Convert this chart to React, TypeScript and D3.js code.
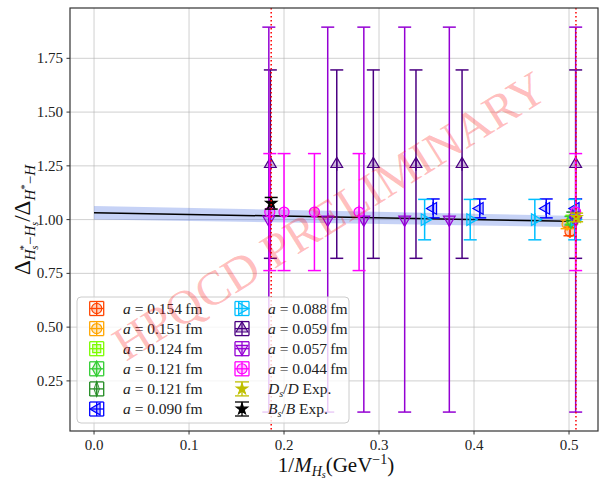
import React, { useEffect } from 'react';
import * as d3 from 'd3';

// axis ticks
const xTicks = [0.0, 0.1, 0.2, 0.3, 0.4, 0.5];
const yTicks = [0.25, 0.5, 0.75, 1.0, 1.25, 1.5, 1.75];

// fit band (x, central, error)
const fitX = [0.0, 0.5];
const fitY = [1.032, 0.992];
const fitErr = [0.031, 0.026];

// experimental reference lines (vertical dotted)
const expLines = [0.1865, 0.5073];

// lattice ensembles
const a154X = [0.501];
const a154Y = [0.945];
const a154E = [0.02];

const a151X = [0.498];
const a151Y = [0.978];
const a151E = [0.02];

const a124X = [0.503];
const a124Y = [1.0];
const a124E = [0.02];

const a121aX = [0.502];
const a121aY = [0.995];
const a121aE = [0.02];

const a121bX = [0.504];
const a121bY = [1.015];
const a121bE = [0.02];

const a090X = [0.357, 0.406, 0.476, 0.507];
const a090Y = [1.052, 1.052, 1.052, 1.052];
const a090E = [0.044, 0.044, 0.044, 0.044];

const a088X = [0.348, 0.396, 0.464, 0.506];
const a088Y = [1.0, 1.0, 1.0, 1.0];
const a088E = [0.094, 0.094, 0.094, 0.094];

const a059X = [0.1856, 0.2555, 0.294, 0.3389, 0.3874, 0.507];
const a059Y = [1.258, 1.258, 1.258, 1.258, 1.258, 1.258];
const a059E = [0.438, 0.438, 0.438, 0.438, 0.438, 0.438];

const a057X = [0.184, 0.246, 0.284, 0.327, 0.374, 0.507];
const a057Y = [1.0, 1.0, 1.0, 1.0, 1.0, 1.0];
const a057E = [0.895, 0.895, 0.895, 0.895, 0.895, 0.895];

const a044X = [0.185, 0.2, 0.232, 0.279, 0.507];
const a044Y = [1.035, 1.035, 1.035, 1.035, 1.035];
const a044E = [0.272, 0.272, 0.272, 0.272, 0.272];

// experiment
const dsdX = [0.508];
const dsdY = [1.01];
const dsdE = [0.02];

const bsbX = [0.1865];
const bsbY = [1.076];
const bsbE = [0.027];

const labels = [
  '0.154', '0.151', '0.124', '0.121', '0.121', '0.090',
  '0.088', '0.059', '0.057', '0.044',
];

type Series = {
  name: string;
  exp: boolean;
  color: string;
  marker: string;
  xs: number[];
  ys: number[];
  es: number[];
};

const series: Series[] = [
  { name: labels[0], exp: false, color: '#ff4500', marker: 'o', xs: a154X, ys: a154Y, es: a154E },
  { name: labels[1], exp: false, color: '#ffa500', marker: 'o', xs: a151X, ys: a151Y, es: a151E },
  { name: labels[2], exp: false, color: '#7cfc00', marker: 's', xs: a124X, ys: a124Y, es: a124E },
  { name: labels[3], exp: false, color: '#32cd32', marker: 'D', xs: a121aX, ys: a121aY, es: a121aE },
  { name: labels[4], exp: false, color: '#228b22', marker: 'd', xs: a121bX, ys: a121bY, es: a121bE },
  { name: labels[5], exp: false, color: '#0000ff', marker: '<', xs: a090X, ys: a090Y, es: a090E },
  { name: labels[6], exp: false, color: '#00bfff', marker: '>', xs: a088X, ys: a088Y, es: a088E },
  { name: labels[7], exp: false, color: '#4b0082', marker: '^', xs: a059X, ys: a059Y, es: a059E },
  { name: labels[8], exp: false, color: '#9400d3', marker: 'v', xs: a057X, ys: a057Y, es: a057E },
  { name: labels[9], exp: false, color: '#ff00ff', marker: 'o', xs: a044X, ys: a044Y, es: a044E },
  { name: 'Ds', exp: true, color: '#bfbf00', marker: '*', xs: dsdX, ys: dsdY, es: dsdE },
  { name: 'Bs', exp: true, color: '#000000', marker: '*', xs: bsbX, ys: bsbY, es: bsbE },
];

const W = 599;
const H = 482;
const left = 70;
const right = 598;
const top = 8;
const bottom = 431;
const cap = 6.5;
const serif = '"Liberation Serif", "DejaVu Serif", serif';

const x = d3.scaleLinear().domain([-0.0253, 0.5305]).range([left, right]);
const y = d3.scaleLinear().domain([0.017, 1.984]).range([bottom, top]);

function Marker({ m, color, cx, cy }: { m: string; color: string; cx: number; cy: number }) {
  let d = '';
  let rot = 0;
  let sx = 1;
  if (m === 'o') d = d3.symbol(d3.symbolCircle, 80)()!;
  else if (m === 's') d = d3.symbol(d3.symbolSquare, 64)()!;
  else if (m === 'D') d = d3.symbol(d3.symbolDiamond, 70)()!;
  else if (m === 'd') { d = d3.symbol(d3.symbolDiamond, 70)()!; sx = 0.6; }
  else if (m === '*') d = d3.symbol(d3.symbolStar, 38)()!;
  else {
    d = d3.symbol(d3.symbolTriangle, 60)()!;
    rot = m === '^' ? 0 : m === 'v' ? 180 : m === '<' ? -90 : 90;
  }
  const filled = m === '*';
  return (
    <path
      d={d}
      transform={`translate(${cx},${cy}) rotate(${rot}) scale(${sx},1)`}
      fill={color}
      fillOpacity={filled ? 1 : 0.25}
      stroke={color}
      strokeWidth={1.2}
    />
  );
}

function ErrPoint({ s, xv, yv, ev }: { s: Series; xv: number; yv: number; ev: number }) {
  const cx = x(xv);
  const cy = y(yv);
  const y0 = y(yv - ev);
  const y1 = y(yv + ev);
  return (
    <g>
      <line x1={cx} x2={cx} y1={y0} y2={y1} stroke={s.color} strokeWidth={1.5} />
      <line x1={cx - cap} x2={cx + cap} y1={y0} y2={y0} stroke={s.color} strokeWidth={1.5} />
      <line x1={cx - cap} x2={cx + cap} y1={y1} y2={y1} stroke={s.color} strokeWidth={1.5} />
      {!s.exp && (
        <line x1={cx} x2={cx} y1={cy - cap} y2={cy + cap} stroke={s.color} strokeWidth={1.5} />
      )}
      <Marker m={s.marker} color={s.color} cx={cx} cy={cy} />
    </g>
  );
}

function LegendHandle({ s, cx, cy }: { s: Series; cx: number; cy: number }) {
  const h = 7;
  return (
    <g stroke={s.color} strokeWidth={1.3}>
      <line x1={cx} x2={cx} y1={cy - h} y2={cy + h} />
      <line x1={cx - h} x2={cx + h} y1={cy - h} y2={cy - h} />
      <line x1={cx - h} x2={cx + h} y1={cy + h} y2={cy + h} />
      {!s.exp && (
        <g>
          <line x1={cx - h} x2={cx + h} y1={cy} y2={cy} />
          <line x1={cx - h} x2={cx - h} y1={cy - h} y2={cy + h} />
          <line x1={cx + h} x2={cx + h} y1={cy - h} y2={cy + h} />
        </g>
      )}
      <Marker m={s.marker} color={s.color} cx={cx} cy={cy} />
    </g>
  );
}

function LegendText({ s }: { s: Series }) {
  if (s.exp) {
    const sym = s.name === 'Ds' ? 'D' : 'B';
    return (
      <>
        <tspan fontStyle="italic">{sym}</tspan>
        <tspan fontStyle="italic" fontSize={10} dy={3}>s</tspan>
        <tspan dy={-3}>/</tspan>
        <tspan fontStyle="italic">{sym}</tspan>
        <tspan> Exp.</tspan>
      </>
    );
  }
  return (
    <>
      <tspan fontStyle="italic">a</tspan>
      <tspan>{` = ${s.name}\u2009fm`}</tspan>
    </>
  );
}

export default function App() {
  useEffect(() => {
    document.body.style.margin = '0';
  }, []);

  const band = d3
    .area<number>()
    .x((_, i) => x(fitX[i]))
    .y0((_, i) => y(fitY[i] - fitErr[i]))
    .y1((_, i) => y(fitY[i] + fitErr[i]));
  const fitLine = d3
    .line<number>()
    .x((_, i) => x(fitX[i]))
    .y((d) => y(d));

  const rowY = (i: number) => 308.5 + i * 20.1;

  return (
    <svg width={W} height={H} style={{ display: 'block', background: '#fff' }} fontFamily={serif}>
      {/* grid */}
      <g stroke="#b0b0b0" strokeOpacity={0.6} strokeWidth={1}>
        {xTicks.map((t) => (
          <line key={'gx' + t} x1={x(t)} x2={x(t)} y1={top} y2={bottom} />
        ))}
        {yTicks.map((t) => (
          <line key={'gy' + t} x1={left} x2={right} y1={y(t)} y2={y(t)} />
        ))}
      </g>

      {/* fit */}
      <path d={band(fitY)!} fill="#4169e1" fillOpacity={0.3} />
      <path d={fitLine(fitY)!} fill="none" stroke="#000" strokeWidth={1.5} />

      {/* data */}
      {series.map((s, si) => (
        <g key={'s' + si}>
          {s.xs.map((xv, i) => (
            <ErrPoint key={i} s={s} xv={xv} yv={s.ys[i]} ev={s.es[i]} />
          ))}
        </g>
      ))}

      {/* experimental positions */}
      {expLines.map((v) => (
        <line
          key={'e' + v}
          x1={x(v)}
          x2={x(v)}
          y1={top}
          y2={bottom}
          stroke="#ff0000"
          strokeWidth={1.5}
          strokeDasharray="1.5,2.5"
        />
      ))}

      {/* frame */}
      <rect x={left} y={top} width={right - left} height={bottom - top} fill="none" stroke="#333" strokeWidth={1.2} />

      {/* ticks */}
      <g fontSize={15} fill="#222">
        {xTicks.map((t) => (
          <g key={'tx' + t}>
            <line x1={x(t)} x2={x(t)} y1={bottom} y2={bottom + 3.5} stroke="#333" />
            <text x={x(t)} y={bottom + 19} textAnchor="middle">
              {t.toFixed(1)}
            </text>
          </g>
        ))}
        {yTicks.map((t) => (
          <g key={'ty' + t}>
            <line x1={left - 3.5} x2={left} y1={y(t)} y2={y(t)} stroke="#333" />
            <text x={left - 7} y={y(t) + 5} textAnchor="end">
              {t.toFixed(2)}
            </text>
          </g>
        ))}
      </g>

      {/* axis labels */}
      <text x={336} y={472} textAnchor="middle" fontSize={21} fill="#111">
        <tspan>1/</tspan>
        <tspan fontStyle="italic">M</tspan>
        <tspan fontStyle="italic" fontSize={14} dy={4}>H</tspan>
        <tspan fontStyle="italic" fontSize={10} dy={2}>s</tspan>
        <tspan dy={-6}>(GeV</tspan>
        <tspan fontSize={14} dy={-8}>{'\u22121'}</tspan>
        <tspan dy={8}>)</tspan>
      </text>
      <text transform="translate(30,220) rotate(-90)" textAnchor="middle" fontSize={23} fill="#111">
        <tspan>Δ</tspan>
        <tspan fontStyle="italic" fontSize={15} dy={5}>H</tspan>
        <tspan fontStyle="italic" fontSize={10} dy={3}>s</tspan>
        <tspan fontSize={11} dy={-11} dx={-5}>*</tspan>
        <tspan fontSize={15} dy={8}>{'\u2212'}</tspan>
        <tspan fontStyle="italic" fontSize={15}>H</tspan>
        <tspan fontStyle="italic" fontSize={10} dy={3}>s</tspan>
        <tspan dy={-8}>/Δ</tspan>
        <tspan fontStyle="italic" fontSize={15} dy={5}>H</tspan>
        <tspan fontSize={11} dy={-7}>*</tspan>
        <tspan fontSize={15} dy={7}>{'\u2212'}</tspan>
        <tspan fontStyle="italic" fontSize={15}>H</tspan>
      </text>

      {/* legend */}
      <rect x={77} y={297} width={272} height={126} rx={4} fill="#fff" fillOpacity={0.8} stroke="#cccccc" />
      {series.map((s, i) => {
        const col = i < 6 ? 0 : 1;
        const row = i % 6;
        const mx = col === 0 ? 96.7 : 242;
        const tx = col === 0 ? 123 : 268;
        const cy = rowY(row);
        return (
          <g key={'lg' + i}>
            <LegendHandle s={s} cx={mx} cy={cy} />
            <text x={tx} y={cy + 5} fontSize={15.5} fill="#222">
              <LegendText s={s} />
            </text>
          </g>
        );
      })}

      {/* watermark */}
      <text
        transform={`translate(${(left + right) / 2 + 4},${(top + bottom) / 2 + 10}) rotate(-32)`}
        textAnchor="middle"
        fontSize={48}
        fill="#ff0000"
        fillOpacity={0.27}
      >
        HPQCD PRELIMINARY
      </text>
    </svg>
  );
}
